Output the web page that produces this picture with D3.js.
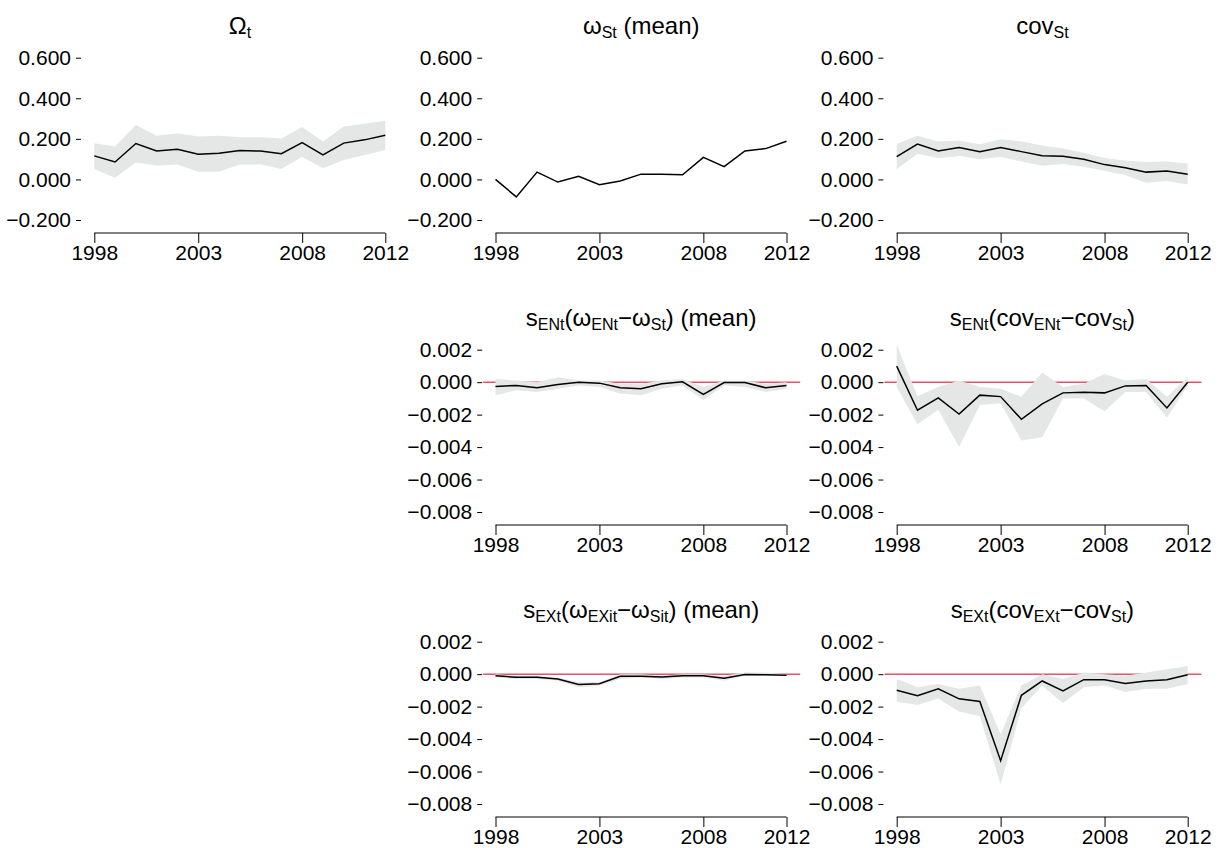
<!DOCTYPE html>
<html><head><meta charset="utf-8">
<script src="https://cdn.jsdelivr.net/npm/d3@7"></script>
<style>body{margin:0;background:#fff}text{font-family:"Liberation Sans",Arial,sans-serif}</style>
</head><body><svg id="chart" width="1219" height="848"></svg>
<script>
const years = d3.range(1998, 2013);
const xTicks = [1998, 2003, 2008, 2012];
const ticksBig = [-0.2, 0, 0.2, 0.4, 0.6];
const ticksSmall = [-0.008, -0.006, -0.004, -0.002, 0, 0.002];

const omegaT = [0.116,0.086,0.177,0.140,0.149,0.124,0.129,0.142,0.140,0.127,0.182,0.121,0.179,0.195,0.218];
const omegaTHi = [0.178,0.162,0.268,0.215,0.228,0.212,0.215,0.208,0.208,0.202,0.258,0.187,0.261,0.274,0.289];
const omegaTLo = [0.050,0.008,0.084,0.069,0.073,0.038,0.038,0.074,0.074,0.051,0.112,0.055,0.096,0.121,0.145];

const omegaSt = [0,-0.086,0.036,-0.013,0.015,-0.026,-0.008,0.026,0.026,0.023,0.109,0.063,0.140,0.152,0.188];

const covSt = [0.112,0.174,0.140,0.157,0.136,0.157,0.137,0.117,0.114,0.099,0.073,0.058,0.036,0.041,0.026];
const covStHi = [0.175,0.215,0.187,0.192,0.174,0.198,0.187,0.167,0.152,0.132,0.106,0.093,0.086,0.088,0.079];
const covStLo = [0.050,0.126,0.104,0.116,0.099,0.112,0.088,0.068,0.076,0.063,0.043,0.021,-0.017,-0.008,-0.025];

const enOmega = [-0.00027,-0.0002,-0.00035,-0.00015,0,-0.00006,-0.00035,-0.0004,-0.0001,0.00002,-0.00076,-0.00002,-0.00002,-0.00035,-0.0002];
const enOmegaHi = [0.0002,0.0001,0.0,0.0003,0.0001,0.0001,-0.0001,-0.0001,0.0001,0.0002,-0.0003,0.0001,0.0001,-0.0001,0.0];
const enOmegaLo = [-0.0008,-0.0005,-0.0006,-0.0004,-0.0002,-0.0003,-0.0007,-0.0008,-0.0004,-0.0002,-0.0011,-0.0002,-0.0003,-0.0006,-0.0004];

const enCov = [0.00099,-0.00173,-0.00097,-0.00196,-0.0008,-0.00089,-0.00229,-0.00134,-0.00066,-0.00062,-0.00066,-0.00023,-0.00021,-0.00159,0];
const enCovHi = [0.0023,-0.00087,-0.0003,0.0001,-0.0003,-0.0004,-0.0009,0.0006,-0.0003,-0.0001,0.0005,0.0001,0.0002,-0.0009,0.0003];
const enCovLo = [-0.0003,-0.0026,-0.0017,-0.004,-0.0014,-0.0013,-0.0036,-0.0034,-0.001,-0.001,-0.0018,-0.0006,-0.0006,-0.0022,-0.0002];

const exOmega = [-0.0001,-0.00019,-0.00019,-0.0003,-0.00063,-0.00059,-0.00013,-0.00013,-0.00017,-0.0001,-0.0001,-0.00025,-0.00002,-0.00004,-0.00006];
const exOmegaHi = [0,-0.0001,-0.0001,-0.0002,-0.0005,-0.0005,0,0,-0.0001,0,0,-0.0001,0.0001,0.0001,0];
const exOmegaLo = [-0.0002,-0.0003,-0.0003,-0.0004,-0.0008,-0.0007,-0.0003,-0.0002,-0.0003,-0.0002,-0.0002,-0.0004,-0.0001,-0.0001,-0.0001];

const exCov = [-0.00099,-0.00133,-0.0009,-0.00152,-0.00168,-0.00533,-0.0013,-0.00042,-0.00103,-0.00034,-0.00034,-0.00057,-0.00042,-0.00034,-0.00004];
const exCovHi = [-0.0003,-0.0008,-0.0006,-0.0009,-0.0007,-0.0037,-0.0007,0,-0.0003,0.0001,0,-0.0001,0.0001,0.0003,0.0005];
const exCovLo = [-0.0017,-0.0019,-0.0015,-0.0023,-0.0026,-0.0068,-0.0021,-0.0007,-0.0018,-0.0008,-0.0007,-0.0011,-0.0009,-0.0009,-0.0006];

// title parts: [text, isSub]
const panels = [
  {col:0,row:0,title:[["Ω",0],["t",1]],line:omegaT,hi:omegaTHi,lo:omegaTLo,ticks:ticksBig,ref:false},
  {col:1,row:0,title:[["ω",0],["St",1],[" (mean)",0]],line:omegaSt,ticks:ticksBig,ref:false},
  {col:2,row:0,title:[["cov",0],["St",1]],line:covSt,hi:covStHi,lo:covStLo,ticks:ticksBig,ref:false},
  {col:1,row:1,title:[["s",0],["ENt",1],["(ω",0],["ENt",1],["−ω",0],["St",1],[") (mean)",0]],line:enOmega,hi:enOmegaHi,lo:enOmegaLo,ticks:ticksSmall,ref:true},
  {col:2,row:1,title:[["s",0],["ENt",1],["(cov",0],["ENt",1],["−cov",0],["St",1],[")",0]],line:enCov,hi:enCovHi,lo:enCovLo,ticks:ticksSmall,ref:true},
  {col:1,row:2,title:[["s",0],["EXt",1],["(ω",0],["EXit",1],["−ω",0],["Sit",1],[") (mean)",0]],line:exOmega,hi:exOmegaHi,lo:exOmegaLo,ticks:ticksSmall,ref:true},
  {col:2,row:2,title:[["s",0],["EXt",1],["(cov",0],["EXt",1],["−cov",0],["St",1],[")",0]],line:exCov,hi:exCovHi,lo:exCovLo,ticks:ticksSmall,ref:true}
];

const svg = d3.select("#chart");
const colW = 401.2, rowH = 292;
const f = d3.format(".3f");

panels.forEach(p => {
  const ox = p.col * colW, oy = p.row * rowH;
  const g = svg.append("g").attr("transform", `translate(${ox},${oy})`);
  const x = d3.scaleLinear().domain([1998, 2012]).range([94.3, 385.3]);
  const tk = p.ticks;
  const y = d3.scaleLinear().domain([tk[0], tk[tk.length-1]]).range([220, 57.7]);

  if (p.ref) {
    g.append("line").attr("x1", 82).attr("x2", 399).attr("y1", y(0)).attr("y2", y(0))
      .attr("stroke", "#DF536B").attr("stroke-width", 1.5);
  }
  if (p.hi) {
    g.append("path").datum(years.map((yr,i)=>[yr,p.lo[i],p.hi[i]]))
      .attr("fill", "#e5e6e6")
      .attr("d", d3.area().x(d=>x(d[0])).y0(d=>y(d[1])).y1(d=>y(d[2])));
  }
  g.append("path").datum(years.map((yr,i)=>[yr,p.line[i]]))
    .attr("fill","none").attr("stroke","#000").attr("stroke-width",1.5)
    .attr("d", d3.line().x(d=>x(d[0])).y(d=>y(d[1])));

  const xa = g.append("g").attr("transform","translate(0,233)")
    .call(d3.axisBottom(x).tickValues(xTicks).tickFormat(d3.format("d")).tickSize(10).tickSizeOuter(0));
  xa.attr("font-size", null).attr("font-family", null);
  xa.select(".domain").attr("stroke","#000").attr("d", `M${x(1998)},0H${x(2012)}`);
  xa.selectAll("text").style("font-size","21px").attr("y", 27).attr("dy", 0).attr("fill","#000");
  xa.selectAll("line").attr("stroke","#000");

  const ya = g.append("g").attr("transform","translate(81,0)")
    .call(d3.axisLeft(y).tickValues(tk).tickFormat(d=>f(d).replace("-","−")).tickSize(5).tickPadding(5));
  ya.attr("font-size", null).attr("font-family", null);
  ya.select(".domain").remove();
  ya.selectAll("text").style("font-size","21px").attr("fill","#000");
  ya.selectAll("line").attr("stroke","#000");

  const t = g.append("text").attr("x", 240).attr("y", 34).attr("text-anchor","middle").style("font-size","24px");
  let prevSub = false;
  p.title.forEach(([s, sub]) => {
    const ts = t.append("tspan").text(s);
    if (sub) ts.style("font-size","16px").attr("dy", prevSub ? 0 : 4);
    else if (prevSub) ts.attr("dy", -4);
    prevSub = !!sub;
  });
});
</script></body></html>
